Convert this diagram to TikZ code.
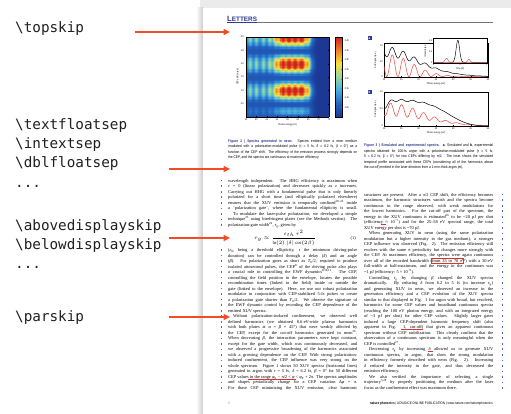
\documentclass[tikz,border=0pt]{standalone}
\usepackage{fontspec}
\usepackage{pgfplots}
\pgfplotsset{compat=1.18}
\usetikzlibrary{arrows.meta}
\setmainfont{Liberation Serif}
\newfontfamily\labelfont{DejaVu Sans Mono}
\newfontfamily\capsans[FakeStretch=0.85]{Liberation Sans}
\newfontfamily\headsans{Liberation Sans}

\definecolor{arrowred}{HTML}{F24B26}
\definecolor{labelink}{HTML}{202020}
\definecolor{naturenavy}{HTML}{2D3A8F}
\definecolor{marginblue}{HTML}{5563D8}
\definecolor{curvered}{HTML}{F0443C}
\definecolor{notered}{HTML}{E03030}

\hbadness=10000 \hfuzz=60pt
\newlength\colw
\setlength\colw{129pt}
\newcommand\jl[1]{\hbox to \colw{#1}}
\newcommand\lastln[1]{\hbox{#1}}
\newcommand\ind{\hspace*{5pt}}
\newcommand\gk[1]{{\itshape #1}}
\newcommand\bodyset{\fontsize{4.4}{5.52}\selectfont\lineskiplimit=-10pt\relax}
\newcommand\capset{\capsans\fontsize{3.8}{5.6}\selectfont\lineskiplimit=-10pt\relax}
\newcommand\tinysans{\capsans\fontsize{2.5}{2.8}\selectfont}

\tikzset{
  keyword/.style={anchor=base west, inner sep=0pt, text=labelink,
    font=\labelfont\fontsize{14.3}{14.3}\selectfont},
  pointer/.style={draw=arrowred, line width=1.1pt, -{Triangle[length=6.5pt,width=6pt]}},
  column/.style={anchor=base west, inner sep=0pt, font=\bodyset},
  capblock/.style={anchor=base west, inner sep=0pt, font=\capset},
  ticklbl/.style={inner sep=0pt, font=\tinysans},
  frame/.style={draw=black, line width=0.35pt},
  margmark/.style={fill=marginblue, minimum size=1.6pt, inner sep=0pt},
  tagbox/.style={fill=naturenavy, text=white, inner sep=0pt, minimum size=4pt,
    font=\capsans\bfseries\fontsize{3.4}{4}\selectfont},
  note/.style={draw=notered, line width=0.4pt},
  declare function={
    gs(\e,\c,\w)=exp(-min(((\e-\c)/\w)*((\e-\c)/\w),9));
    gq(\e,\c,\w)=exp(-min(((\e-\c)/\w)*((\e-\c)/\w)*((\e-\c)/\w)*((\e-\c)/\w),9));
    hc(\e,\c)=cos(180*(\e-\c)/3.2)*cos(180*(\e-\c)/3.2);
    ra(\e)=(0.6*gs(\e,22,9)+0.12*exp(-(\e-22)/9))*hc(\e,22.4);
    ba(\e)=0.65*gs(\e,20,15)+0.45*ra(\e);
    rb(\e)=0.3*gs(\e,20,17)+0.38*gs(\e,22,12)*hc(\e,21.9);
    bb(\e)=0.72*gq(\e,22,18)*(1-0.3*gs(\e,20,1.4))+0.07*hc(\e,21.9)*gs(\e,22,10);
    tb(\e)=0.02+gs(\e,-0.08,0.09);
    tr(\e)=0.2*gs(\e,-0.5,0.08)+0.15*gs(\e,0.33,0.07);
  },
}

\begin{document}
\begin{tikzpicture}[x=1pt, y=-1pt]
\useasboundingbox (0,0) rectangle (511,414);
\clip (0,0) rectangle (511,414);
\fill[white] (0,0) rectangle (511,414);

% ---- the page sheet with its soft shadow
\fill[black!8] (200,0) rectangle (511,8);
\shade[left color=white, right color=black!20] (196,8) rectangle (203,414);
\fill[white] (203,8) rectangle (511,414);

% ---- keyword labels on the left
\node[keyword] (kTop)   at (15,33)  {\textbackslash topskip};
\node[keyword] (kTfs)   at (15,130) {\textbackslash textfloatsep};
\node[keyword] (kIts)   at (15,149) {\textbackslash intextsep};
\node[keyword] (kDfs)   at (15,168) {\textbackslash dblfloatsep};
\node[keyword] (kDotsA) at (15,188) {...};
\node[keyword] (kAds)   at (15,230) {\textbackslash abovedisplayskip};
\node[keyword] (kBds)   at (15,249) {\textbackslash belowdisplayskip};
\node[keyword] (kDotsB) at (15,268) {...};
\node[keyword] (kPar)   at (15,321) {\textbackslash parskip};

% ---- arrows into the page
\coordinate (pTopS) at (135,32);  \coordinate (pTopE) at (230,32);
\coordinate (pFltS) at (169,169); \coordinate (pFltE) at (230,169);
\coordinate (pDspS) at (169,238); \coordinate (pDspE) at (230,238);
\coordinate (pParS) at (169,317); \coordinate (pParE) at (230,317);
\draw[pointer] (pTopS) -- (pTopE);
\draw[pointer] (pFltS) -- (pFltE);
\draw[pointer] (pDspS) -- (pDspE);
\draw[pointer] (pParS) -- (pParE);

% ---- running head
\node[anchor=base west, inner sep=0pt, text=naturenavy,
      font=\headsans\bfseries\fontsize{7.6}{8}\selectfont] (head) at (227,21.3)
      {L{\fontsize{6.4}{7}\selectfont ETTERS}};
\draw[black!55, line width=0.6pt] (head.east |- 0,22.6) -- (493,22.6);
\draw[naturenavy, line width=0.6pt] (227,22.6) -- (head.east |- 0,22.6);

% ---- Figure 2: CEP-resolved spectra
\begin{scope}[x=1cm, y=1cm]
\begin{axis}[
  name=heat,
  at={(246pt,-117pt)}, anchor=south west,
  scale only axis, width=83pt, height=80pt,
  view={0}{90},
  xmin=35, xmax=75, ymin=0, ymax=3,
  enlargelimits=false,
  axis line style={line width=0.35pt},
  tick style={line width=0.3pt, black},
  major tick length=1.2pt,
  xtick={35,40,...,75}, ytick={0.5,1,1.5,2,2.5,3},
  /pgf/number format/assume math mode=true,
  tick label style={font=\tinysans},
  xticklabel style={yshift=1.3pt},
  yticklabel style={xshift=1.3pt, /pgf/number format/.cd, fixed, precision=1, fixed zerofill, assume math mode=true},
  xlabel={Photon energy (eV)}, ylabel={CEP shift (π rad)},
  label style={font=\tinysans},
  xlabel style={yshift=4.5pt}, ylabel style={yshift=-5pt},
  colormap={natmap}{rgb255=(28,56,148) rgb255=(34,98,192) rgb255=(70,172,222) rgb255=(150,214,160) rgb255=(246,226,62) rgb255=(240,128,42) rgb255=(206,36,30)},
  point meta min=0, point meta max=0.42,
  colorbar,
  colorbar style={
    at={(1.075,1)}, anchor=north west,
    scale only axis, width=7pt,
    ytick={0.05,0.1,0.15,0.2,0.25,0.3,0.35,0.4},
    major tick length=1pt,
    tick style={line width=0.3pt},
    axis line style={line width=0.35pt},
    yticklabel style={font=\tinysans, xshift=-1pt, /pgf/number format/.cd, fixed, precision=2, fixed zerofill, assume math mode=true},
  },
]
\addplot3[surf, shader=flat, samples=80, samples y=60, domain=35:75, y domain=0:3]
  { (1/(1+exp((x-67)/0.8))) * (0.05 + (1-exp(-(y/0.3)^2))*(0.17*cos(180*y)^2*(0.7+0.3*cos(360*x/3.1)) + 0.27*exp(-((x-57.5)/8.5)^4)*cos(180*y)^2)) };
\end{axis}
\end{scope}

% ---- Figure 3a
\node[tagbox] (tagA) at (369.5,38.5) {a};
\draw[frame] (384,43) rectangle (488,77);
\draw[curvered, line width=0.5pt] plot[domain=20:50, samples=181, smooth]
  ({384+3.4667*(\x-20)}, {76.7-30.7*ra(\x)});
\draw[black, line width=0.5pt] plot[domain=20:50, samples=181, smooth]
  ({384+3.4667*(\x-20)}, {76.7-30.7*ba(\x)});
\foreach \v [count=\k] in {20,25,...,50} {
  \draw[line width=0.3pt] ({384+3.4667*(\v-20)},77) -- ++(0,-1.2);
  \node[ticklbl, anchor=north] (axA\k) at ({384+3.4667*(\v-20)},78.3) {\v};
}
\foreach \v/\lbl [count=\k] in {0/0, 0.5/0.5, 1/1.0} {
  \draw[line width=0.3pt] (384,{76.7-30.7*\v}) -- ++(1.2,0);
  \node[ticklbl, anchor=east] (ayA\k) at (383,{76.7-30.7*\v}) {\lbl};
}
\node[ticklbl] (xlabA) at (436,84.2) {Photon energy (eV)};
\node[ticklbl, rotate=90] (ylabA) at (375.5,60) {XUV signal (a.u.)};

% inset of 3a
\fill[white] (433,38) rectangle (487,63);
\draw[frame] (433,38) rectangle (487,63);
\draw[curvered, line width=0.45pt] plot[domain=-1:1, samples=161, smooth]
  ({460+27*\x}, {62.7-22*tr(\x)});
\draw[black, line width=0.45pt] plot[domain=-1:1, samples=161, smooth]
  ({460+27*\x}, {62.7-22*tb(\x)});
\foreach \v [count=\k] in {-1,0,1} {
  \node[ticklbl, anchor=north] (ixA\k) at ({460+27*\v},64) {\v};
}
\foreach \v/\lbl [count=\k] in {0/0, 0.5/0.5, 1/1.0} {
  \node[ticklbl, anchor=east] (iyA\k) at (432.2,{62.7-22*\v}) {\lbl};
}
\node[ticklbl] (ixlab) at (460,69) {Time (fs)};
\node[ticklbl, rotate=90] (iylab) at (425.5,50.5) {Intensity (a.u.)};

% ---- Figure 3b
\node[tagbox] (tagB) at (369.5,92.5) {b};
\draw[frame] (384,92) rectangle (488,126);
\draw[curvered, line width=0.5pt] plot[domain=20:50, samples=181, smooth]
  ({384+3.4667*(\x-20)}, {126-34*rb(\x)});
\draw[black, line width=0.5pt] plot[domain=20:50, samples=181, smooth]
  ({384+3.4667*(\x-20)}, {126-34*bb(\x)});
\foreach \v [count=\k] in {20,25,...,50} {
  \draw[line width=0.3pt] ({384+3.4667*(\v-20)},126) -- ++(0,-1.2);
  \node[ticklbl, anchor=north] (axB\k) at ({384+3.4667*(\v-20)},127.3) {\v};
}
\foreach \v/\lbl [count=\k] in {0/0, 0.5/0.5, 1/1.0} {
  \draw[line width=0.3pt] (384,{126-34*\v}) -- ++(1.2,0);
  \node[ticklbl, anchor=east] (ayB\k) at (383,{126-34*\v}) {\lbl};
}
\node[ticklbl] (xlabB) at (436,133.2) {Photon energy (eV)};
\node[ticklbl, rotate=90] (ylabB) at (375.5,109) {XUV signal (a.u.)};

% ---- captions
\node[capblock] (cap2) at (228,142.2) {\vtop{%
\jl{\textcolor{naturenavy}{\textbf{Figure 2 | Spectra generated in neon.}} Spectra emitted from a neon medium}
\jl{irradiated with a polarization-modulated pulse (τ = 5 fs, δ = 6.2 fs, β = 0°) as a}
\jl{function of the CEP shift. The efficiency of the emission process strongly depends on}
\lastln{the CEP, and the spectra are continuous at maximum efficiency.}}};

\node[capblock] (cap3) at (364,146.5) {\vtop{%
\jl{\textcolor{naturenavy}{\textbf{Figure 3 | Simulated and experimental spectra.}} \textbf{a}, Simulated and \textbf{b}, experimental}
\jl{spectra obtained for 100-fs argon with a polarization-modulated pulse (τ = 5 fs,}
\jl{δ = 6.2 fs, β = 0°) for two CEPs differing by π/2. The inset shows the simulated}
\jl{temporal profile associated with these CEPs (considering all of the harmonics above}
\lastln{the cut-off) emitted in the laser direction from a 1-mm-thick argon jet).}}};

% ---- body text, left column
\node[column] (colLa) at (228,182.2) {\vtop{%
\jl{wavelength independent. The HHG efficiency is maximum when}
\jl{\gk{ε} = 0 (linear polarization) and decreases quickly as \gk{ε} increases.}
\jl{Carrying out HHG with a fundamental pulse that is only linearly}
\jl{polarized for a short time (and elliptically polarized elsewhere)}
\jl{ensures that the XUV emission is temporally confined\textsuperscript{20–22} inside}
\jl{a ‘polarization gate’, where the fundamental ellipticity is small.}
\jl{\ind To modulate the laser-pulse polarization, we developed a simple}
\jl{technique\textsuperscript{23} using birefringent plates (see the Methods section). The}
\lastln{polarization-gate width\textsuperscript{24}, \gk{τ}\textsubscript{g}, given by}}};

\node[inner sep=0pt, font=\fontsize{4.6}{5.5}\selectfont] (eqn) at (285,238)
  {$\displaystyle \tau_g \approx \frac{\varepsilon_{th}\,\tau^2}{\ln(2)\,|\delta|\cos(2\beta)}$};
\node[anchor=east, inner sep=0pt, font=\bodyset] (eqnum) at (356,238) {(1)};

\node[column] (colLb) at (228,251.5) {\vtop{%
\jl{(\gk{ε}\textsubscript{th} being a threshold ellipticity, \gk{τ} the minimum driving-pulse}
\jl{duration) can be controlled through a delay (\gk{δ}) and an angle}
\jl{(\gk{β}). For polarization gates as short as \gk{T}\textsubscript{0}/2, required to produce}
\jl{isolated attosecond pulses, the CEP\textsuperscript{8} of the driving pulse also plays}
\jl{a crucial role in controlling the EWF dynamics\textsuperscript{8,10,11}. The CEP,}
\jl{controlling the field position in the envelope, locates the possible}
\jl{recombination times (linked to the field) inside or outside the}
\jl{gate (linked to the envelope). Here, we use our robust polarization}
\jl{modulator in conjunction with CEP-stabilized 5-fs pulses to create}
\jl{a polarization gate shorter than \gk{T}\textsubscript{0}/2. We observe the signature of}
\jl{the EWF dynamic control by recording the CEP dependence of the}
\lastln{emitted XUV spectra.}
\jl{\ind Without polarization-induced confinement, we observed well}
\jl{defined harmonics (we obtained 8.6-eV-wide plateau harmonics}
\jl{with both plates at \gk{α} = \gk{β} = 45°) that were weakly affected by}
\jl{the CEP, except for the cut-off harmonics generated in neon\textsuperscript{26}.}
\jl{When decreasing \gk{β}, the interaction parameters were kept constant,}
\jl{except for the gate width, which was continuously decreased, and}
\jl{we observed a progressive broadening of the harmonics associated}
\jl{with a growing dependence on the CEP. With strong polarization-}
\jl{induced confinement, the CEP influence was very strong on the}
\jl{whole spectrum. Figure 1 shows 50 XUV spectra (horizontal lines)}
\jl{generated in argon with \gk{τ} = 5 fs, \gk{δ} = 6.2 fs, \gk{β} = 0° for 50 different}
\jl{CEP values in the range \gk{φ}\textsubscript{0} − π/2 < \gk{φ} < \gk{φ}\textsubscript{0} + 2π. The spectra amplitudes}
\jl{and shapes periodically change for a CEP variation Δ\gk{φ} = π.}
\jl{For those CEP minimizing the XUV emission, clear harmonic}}};

% ---- body text, right column
\node[column] (colR) at (364,196.2) {\vtop{%
\jl{structures are present. After a π/2 CEP shift, the efficiency becomes}
\jl{maximum, the harmonic structures vanish and the spectra become}
\jl{continuous in the range observed, with weak modulations for}
\jl{the lowest harmonics. For the cut-off part of the spectrum, the}
\jl{energy in the XUV continuum is estimated\textsuperscript{26} to be \textasciitilde20 pJ per shot}
\jl{(efficiency ≈ 10\textsuperscript{−7}) and for the 25–58 eV spectral range, the total}
\lastln{XUV energy per shot is \textasciitilde70 pJ.}
\jl{\ind When generating XUV in neon (using the same polarization}
\jl{modulation but a higher intensity in the gas medium), a stronger}
\jl{CEP influence was observed (Fig. 2). The emission efficiency still}
\jl{evolves with the same π periodicity but changes more strongly with}
\jl{the CEP. At maximum efficiency, the spectra were again continuous}
\jl{over all of the recorded bandwidth (from 35 to 70 eV) with a 30-eV}
\jl{full-width at half-maximum, and the energy in the continuum was}
\lastln{\textasciitilde1 pJ (efficiency: 5 × 10\textsuperscript{−9}).}
\jl{\ind Controlling \gk{τ}\textsubscript{g} by changing \gk{β} changed the XUV spectra}
\jl{dramatically. By reducing \gk{δ} from 6.2 to 5 fs (to increase \gk{τ}\textsubscript{g})}
\jl{and generating XUV in neon, we observed an increase in the}
\jl{generation efficiency and a CEP evolution of the XUV spectra}
\jl{similar to that displayed in Fig. 1 for argon with broad, but resolved,}
\jl{harmonics for some CEP values and broadband continuous spectra}
\jl{(reaching the 100 eV photon energy, and with an integrated energy}
\jl{of \textasciitilde3 pJ per shot) for other CEP values. Slightly larger gates}
\jl{induced a large CEP-dependent harmonic frequency shift (also}
\jl{apparent in Fig. 1, cut-off) that gives an apparent continuous}
\jl{spectrum without CEP stabilization. This clearly confirms that the}
\jl{observation of a continuous spectrum is only meaningful when the}
\lastln{CEP is controlled\textsuperscript{27}.}
\jl{\ind Decreasing \gk{τ}\textsubscript{g} by increasing \gk{δ} allowed us to generate XUV}
\jl{continuous spectra, in argon, that show the strong modulation}
\jl{in efficiency formerly described with neon (Fig. 2). Increasing}
\jl{\gk{δ} reduced the intensity in the gate, and thus decreased the}
\lastln{emission efficiency.}
\jl{\ind We also verified the importance of selecting a single}
\jl{trajectory\textsuperscript{5,28} by properly positioning the medium after the laser}
\lastln{focus as the confinement effect was maximum there.}}};

% ---- reviewer marks in the text
\draw[note] (248,379.6) -- (296,379.6);
\draw[note] (431,258.3) rectangle (463,263.4);
\draw[note] (401,329.6) -- (423,329.6);
\draw[note] (428,351.6) -- (433,351.6);
\draw[note] (381,224.6) -- (386,224.6);

% ---- line markers in the margins
\foreach \k in {0,...,8}  { \node[margmark] (mLa\k) at (221.5,{180.7+5.52*\k}) {}; }
\foreach \k in {0,...,25} { \node[margmark] (mLb\k) at (221.5,{250+5.52*\k}) {}; }
\foreach \k in {0,...,35} { \node[margmark] (mR\k)  at (502.5,{194.7+5.52*\k}) {}; }

% ---- foot of the page
\node[anchor=base west, inner sep=0pt, text=marginblue,
      font=\capsans\bfseries\fontsize{4}{4}\selectfont] (pgmark) at (228.5,404) {i};
\node[anchor=base east, inner sep=0pt, font=\capsans\fontsize{3.6}{4}\selectfont] (footer) at (493,404)
  {\textbf{nature photonics} | ADVANCE ONLINE PUBLICATION | www.nature.com/naturephotonics};
\end{tikzpicture}
\end{document}
